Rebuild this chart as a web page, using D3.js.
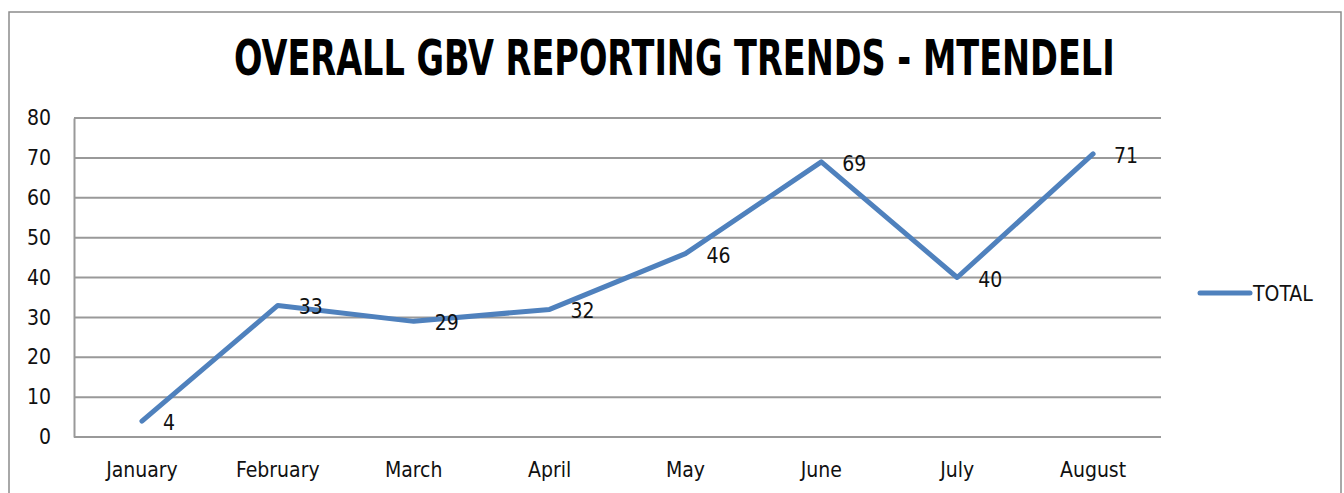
<!DOCTYPE html>
<html>
<head>
<meta charset="utf-8">
<script src="https://cdn.jsdelivr.net/npm/d3@7"></script>
<style>
  body { margin: 0; background: #fff; }
  text { font-family: "Liberation Sans Narrow", "DejaVu Sans Condensed", "Liberation Sans", sans-serif; }
</style>
</head>
<body>
<svg id="chart" width="1344" height="493"></svg>
<script>
// chart data
var months = ["January", "February", "March", "April", "May", "June", "July", "August"];
var totals = [4, 33, 29, 32, 46, 69, 40, 71];
var yTicks = [0, 10, 20, 30, 40, 50, 60, 70, 80];
var seriesName = "TOTAL";
var chartTitle = "OVERALL GBV REPORTING TRENDS - MTENDELI";

var svg = d3.select("#chart"),
    width = +svg.attr("width"),
    height = +svg.attr("height");

var plot = { left: 74, right: 1161, top: 118, bottom: 437 };
var lineColor = "#4F81BD";
var labelFont = "'Liberation Sans Narrow', 'DejaVu Sans Condensed', sans-serif";

// outer frame (bottom edge is off the picture)
svg.append("rect")
    .attr("x", 9).attr("y", 12)
    .attr("width", 1332).attr("height", 500)
    .attr("fill", "none")
    .attr("stroke", "#8c8c8c")
    .attr("stroke-width", 1.5);

// title, squeezed horizontally to the width it has in the original
var title = svg.append("text")
    .attr("x", 0).attr("y", 0)
    .attr("font-size", 49)
    .attr("font-weight", "bold")
    .attr("fill", "#000")
    .text(chartTitle);
var tw = title.node().getComputedTextLength();
title.attr("transform", "translate(234,75) scale(" + (881 / tw) + ",1)");

var x = d3.scaleBand()
    .domain(months)
    .range([plot.left, plot.right]);

var y = d3.scaleLinear()
    .domain([0, 80])
    .range([plot.bottom, plot.top]);

// gridlines
svg.append("g")
    .selectAll("line")
    .data(yTicks)
    .enter().append("line")
    .attr("x1", plot.left).attr("x2", plot.right)
    .attr("y1", function(d) { return y(d); })
    .attr("y2", function(d) { return y(d); })
    .attr("stroke", "#999")
    .attr("stroke-width", 2);

// y axis
var yAxis = svg.append("g")
    .attr("transform", "translate(" + plot.left + ",0)")
    .call(d3.axisLeft(y).tickValues(yTicks).tickSize(0).tickPadding(23));
yAxis.select(".domain").attr("stroke", "#999").attr("stroke-width", 2);
yAxis.selectAll("text").attr("font-size", 21).attr("fill", "#111")
    .attr("font-family", labelFont);

// x axis
var xAxis = svg.append("g")
    .attr("transform", "translate(0," + plot.bottom + ")")
    .call(d3.axisBottom(x).tickSize(0).tickPadding(25));
xAxis.select(".domain").remove();
xAxis.selectAll("text").attr("font-size", 21).attr("fill", "#111")
    .attr("font-family", labelFont);

var pts = months.map(function(m, i) { return { m: m, v: totals[i] }; });

var line = d3.line()
    .x(function(d) { return x(d.m) + x.bandwidth() / 2; })
    .y(function(d) { return y(d.v); });

svg.append("path")
    .datum(pts)
    .attr("d", line)
    .attr("fill", "none")
    .attr("stroke", lineColor)
    .attr("stroke-width", 5)
    .attr("stroke-linejoin", "round")
    .attr("stroke-linecap", "round");

// data labels
svg.append("g")
    .selectAll("text")
    .data(pts)
    .enter().append("text")
    .attr("x", function(d) { return x(d.m) + x.bandwidth() / 2 + 21; })
    .attr("y", function(d) { return y(d.v) + 9; })
    .attr("font-size", 21)
    .attr("fill", "#111")
    .text(function(d) { return d.v; });

// legend
svg.append("line")
    .attr("x1", 1200).attr("x2", 1250)
    .attr("y1", 293).attr("y2", 293)
    .attr("stroke", lineColor)
    .attr("stroke-width", 5)
    .attr("stroke-linecap", "round");
svg.append("text")
    .attr("x", 1253).attr("y", 301)
    .attr("font-size", 21)
    .attr("fill", "#111")
    .text(seriesName);
</script>
</body>
</html>
